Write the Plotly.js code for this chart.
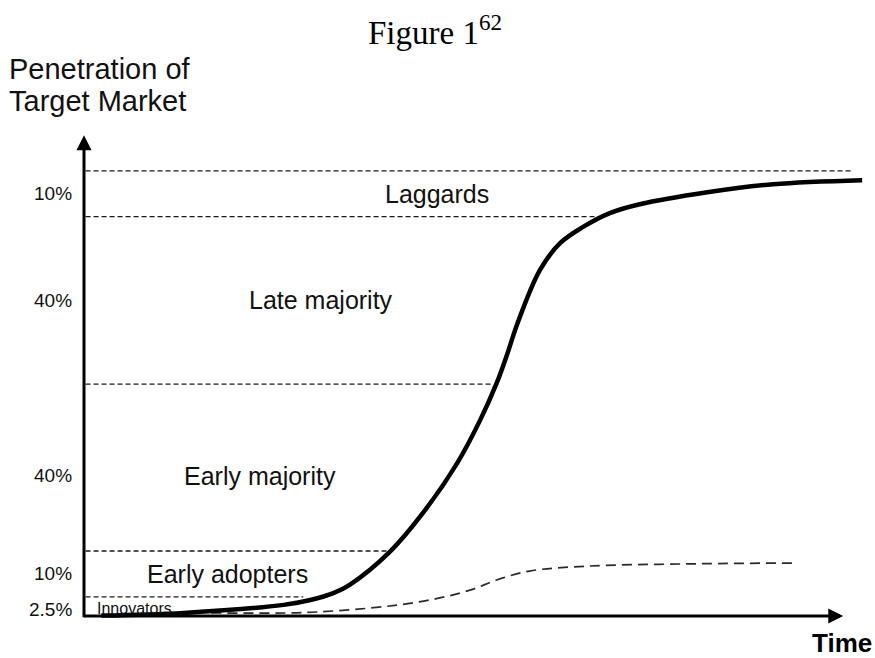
<!DOCTYPE html>
<html>
<head>
<meta charset="utf-8">
<script src="https://cdn.plot.ly/plotly-3.0.1.min.js"></script>
<style>html,body{margin:0;padding:0;background:#fff;}#chart{width:875px;height:658px;}</style>
</head>
<body>
<div id="chart"></div>
<script>
// ---- data ----
const bandNames = ["Innovators", "Early adopters", "Early majority", "Late majority", "Laggards"];
const bandShares = ["2.5%", "10%", "40%", "40%", "10%"];
// drawn upper boundary of each band (chart units, 0 = time axis)
const bandTops = [4.3, 14.6, 52.1, 89.7, 100];
// where each dashed boundary line stops (time units)
const bandLineEnds = [27.9, 38.7, 52.0, 65.0, 97.8];
// label centre on the time axis
const bandLabelX = [1.4, 18.3, 22.4, 30.2, 44.9];

// cumulative adoption (S-curve)
const timeSolid = [2.2, 12.7, 25.4, 28.8, 31.8, 33.8, 38.9, 43.1, 47.5, 50.4, 52.5, 53.8, 55.1, 58.0, 60.6, 63.5, 66.9, 70.7, 79.3, 87.7, 99.0];
const adoptionSolid = [0.1, 0.7, 2.5, 3.6, 5.2, 7.0, 14.4, 23.1, 34.4, 44.0, 52.3, 58.6, 65.5, 77.7, 83.8, 87.4, 90.5, 92.5, 95.2, 97.0, 97.9];

// lower dashed curve
const timeDashed = [16.2, 29.6, 42.4, 49.1, 52.5, 56.7, 64.0, 76.7, 90.5];
const adoptionDashed = [0.7, 0.9, 3.1, 5.8, 8.1, 10.1, 11.2, 11.7, 11.9];

const xMax = 100, yMax = 108.5;

const traces = [];
bandTops.forEach((lvl, i) => {
  traces.push({
    x: [0.2, bandLineEnds[i]], y: [lvl, lvl], mode: 'lines', hoverinfo: 'skip',
    line: {color: '#1a1a1a', width: 1.3, dash: '5px,3px'}
  });
});
traces.push({
  x: timeDashed, y: adoptionDashed, mode: 'lines', hoverinfo: 'skip',
  line: {color: '#2a2a2a', width: 1.7, dash: '10px,6px', shape: 'spline', smoothing: 1}
});
traces.push({
  x: timeSolid, y: adoptionSolid, mode: 'lines', hoverinfo: 'skip',
  line: {color: '#000', width: 4.5, shape: 'spline', smoothing: 1}
});

const sans = 'Liberation Sans, Arial, sans-serif';
const annotations = [];
const shifts = [-2, 0, -8, 0, 0];
bandNames.forEach((name, i) => {
  const lo = i === 0 ? 0 : bandTops[i - 1];
  const mid = (lo + bandTops[i]) / 2;
  annotations.push({
    x: 0, y: mid, xref: 'x', yref: 'y', text: bandShares[i], showarrow: false,
    xanchor: 'right', yanchor: 'middle', xshift: -10, yshift: shifts[i] - (i === 0 ? 1 : 0),
    font: {family: sans, size: 19, color: '#111'}
  });
  annotations.push({
    x: bandLabelX[i], y: mid, xref: 'x', yref: 'y', text: name, showarrow: false,
    xanchor: i === 0 ? 'left' : 'center', yanchor: 'middle', yshift: shifts[i],
    font: {family: sans, size: i === 0 ? 16 : 25, color: '#111'}
  });
});
// axes with arrows
annotations.push({x: 0, y: 108.0, ax: 0, ay: -0.6, xref: 'x', yref: 'y', axref: 'x', ayref: 'y',
  text: '', showarrow: true, arrowhead: 2, arrowsize: 1, arrowwidth: 3, arrowcolor: '#000'});
annotations.push({x: 96.6, y: 0, ax: -0.2, ay: 0, xref: 'x', yref: 'y', axref: 'x', ayref: 'y',
  text: '', showarrow: true, arrowhead: 2, arrowsize: 1, arrowwidth: 3, arrowcolor: '#000'});
// axis titles
annotations.push({x: 7, y: 69, xref: 'paper', yref: 'paper', text: 'Penetration of', showarrow: false,
  xanchor: 'left', yanchor: 'middle', font: {family: sans, size: 29, color: '#111'}});
annotations.push({x: 7, y: 101, xref: 'paper', yref: 'paper', text: 'Target Market', showarrow: false,
  xanchor: 'left', yanchor: 'middle', font: {family: sans, size: 29, color: '#111'}});
annotations.push({x: 842, y: 643, xref: 'paper', yref: 'paper', text: '<b>Time</b>', showarrow: false,
  xanchor: 'center', yanchor: 'middle', font: {family: sans, size: 26, color: '#000'}});

// convert pixel-placed paper annotations
const L = 74, R = 5, T = 133, B = 32, W = 875, H = 658;
annotations.forEach(a => {
  if (a.xref === 'paper' && a.x > 2) {
    a.x = (a.x - L) / (W - L - R);
    a.y = (H - B - a.y) / (H - T - B);
  }
});

const layout = {
  width: W, height: H,
  margin: {l: L, r: R, t: T, b: B, pad: 0},
  paper_bgcolor: '#fff', plot_bgcolor: '#fff',
  showlegend: false,
  title: {text: 'Figure 1<sup>62</sup>', x: 435 / W, xanchor: 'center', xref: 'container',
    y: 1 - 32 / H, yanchor: 'middle', font: {family: 'Liberation Serif, Times New Roman, serif', size: 33, color: '#000'}},
  xaxis: {range: [-10 / 7.86, xMax], visible: false, fixedrange: true},
  yaxis: {range: [-10 / 4.452, yMax], visible: false, fixedrange: true},
  annotations: annotations
};

Plotly.newPlot('chart', traces, layout, {displayModeBar: false, staticPlot: true});
</script>
</body>
</html>
